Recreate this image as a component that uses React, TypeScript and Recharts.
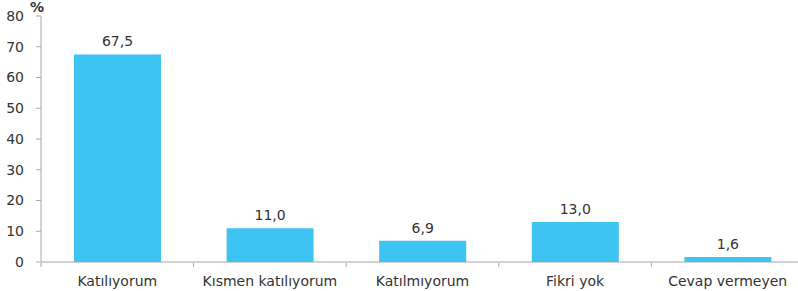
import React from 'react'
import { Bar, BarChart, LabelList, XAxis, YAxis } from 'recharts'

const categories = ['Katılıyorum', 'Kısmen katılıyorum', 'Katılmıyorum', 'Fikri yok', 'Cevap vermeyen']
const percentages = [67.5, 11.0, 6.9, 13.0, 1.6]
const yTicks = [0, 10, 20, 30, 40, 50, 60, 70, 80]
const boundaryTicks = [0, 1, 2, 3, 4, 5]

const data = categories.map((name, i) => ({ name, value: percentages[i], idx: i + 0.5 }))

const font = 'DejaVu Sans, Verdana, sans-serif'
const axisColor = '#a6a6a6'
const textColor = '#333333'

const App = () => {
    return (
        <div style={{ position: 'absolute', left: 0, top: 0, width: 798, height: 291, overflow: 'hidden', background: '#fff' }}>
            <BarChart
                width={810}
                height={291}
                data={data}
                margin={{ top: 16, right: 6, left: 0, bottom: 0 }}
                barCategoryGap={0}
            >
                {/* category labels sit on a 1px axis, the boundary tick marks come from a second numeric axis */}
                <XAxis
                    dataKey='name'
                    height={1}
                    stroke={axisColor}
                    tickLine={false}
                    tickMargin={8}
                    tick={{ fill: textColor, fontSize: 14, fontFamily: font }}
                    interval={0}
                />
                <XAxis
                    xAxisId='bounds'
                    type='number'
                    dataKey='idx'
                    domain={[0, 5]}
                    ticks={boundaryTicks}
                    height={28}
                    axisLine={false}
                    tickLine={{ stroke: axisColor }}
                    tick={() => <g />}
                    tickSize={4}
                    interval={0}
                />
                <YAxis
                    width={41}
                    domain={[0, 80]}
                    ticks={yTicks}
                    tickSize={5}
                    tickMargin={12}
                    stroke={axisColor}
                    tick={{ fill: textColor, fontSize: 14, fontFamily: font }}
                    interval={0}
                />
                <Bar dataKey='value' fill='#3DC4F3' barSize={87} isAnimationActive={false}>
                    <LabelList
                        dataKey='value'
                        position='top'
                        offset={8}
                        fill={textColor}
                        fontSize={14}
                        fontFamily={font}
                        formatter={(v: any) => Number(v).toFixed(1).replace('.', ',')}
                    />
                </Bar>
            </BarChart>
            <span style={{ position: 'absolute', left: 30, top: -1, fontFamily: font, fontSize: 14, fontWeight: 'bold', color: textColor }}>%</span>
        </div>
    )
}

export default App
